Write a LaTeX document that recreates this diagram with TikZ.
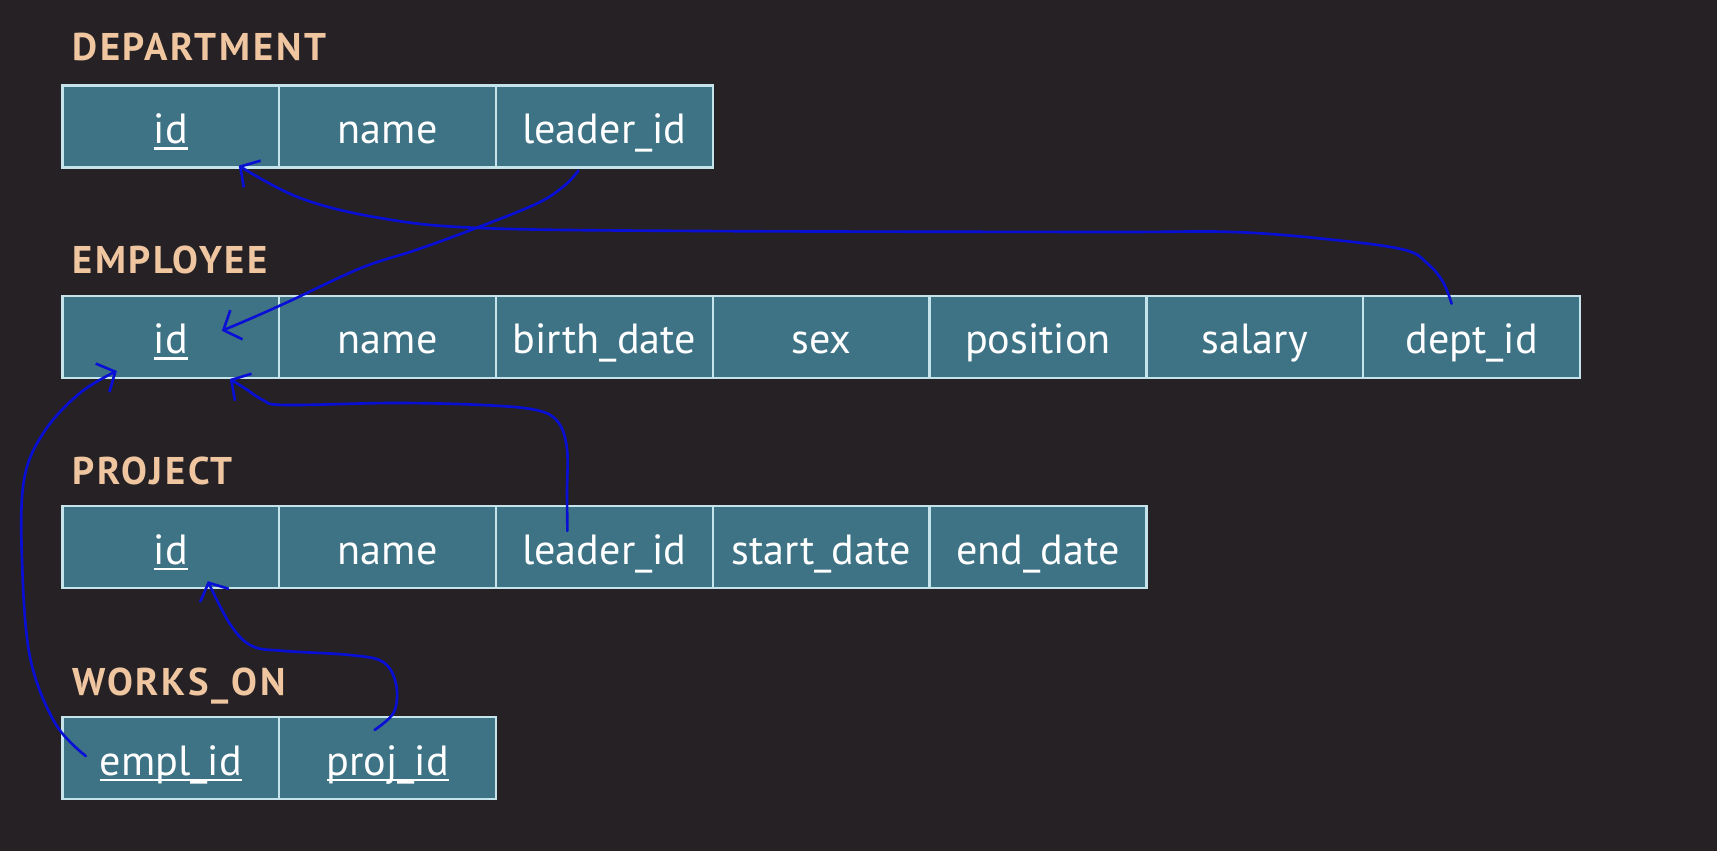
\documentclass[tikz,border=0pt]{standalone}
\usepackage{fontspec}
\setmainfont{PT Sans}
\usetikzlibrary{arrows.meta}
\definecolor{bgdark}{HTML}{252125}
\definecolor{cellfill}{HTML}{3E7386}
\definecolor{cellline}{HTML}{C5E3EA}
\definecolor{titlecol}{HTML}{EFC6A0}
\definecolor{penblue}{HTML}{0A0FD6}
\newcommand{\pkey}[1]{\leavevmode\setbox0=\hbox{#1}\rlap{\rule[-3.5pt]{\wd0}{1.5pt}}\box0}
\begin{document}
\begin{tikzpicture}[x=0.02cm,y=-0.02cm,>={Straight Barb[length=8pt,width=18pt]},
    cell/.style={draw=cellline,line width=1.3pt,fill=cellfill,text=white,minimum width=4.336cm,
        minimum height=1.64cm,inner sep=0pt,text height=0.88cm,text depth=0.2cm,font=\fontsize{24}{28}\selectfont},
    tname/.style={anchor=base west,inner sep=0pt,text=titlecol,font=\fontsize{22}{26}\selectfont\bfseries\addfontfeatures{LetterSpace=7}},
    fk/.style={->,penblue,line width=1.5pt,line cap=round,line join=round}]
    \fill[bgdark](0,0)rectangle(1717,851);
    \useasboundingbox(0,0)rectangle(1717,851);
    % tables
    \node[tname](t-dep)at(72,61){DEPARTMENT};
    \foreach \nm/\lbl [count=\i from 0] in {id/\pkey{id},name/name,leader/leader\_id}
        \node[cell](dep-\nm)at({170.8+216.8*\i},126.5){\lbl};
    \node[tname](t-emp)at(72,274){EMPLOYEE};
    \foreach \nm/\lbl [count=\i from 0] in {id/\pkey{id},name/name,birth/birth\_date,sex/sex,pos/position,salary/salary,dept/dept\_id}
        \node[cell](emp-\nm)at({170.8+216.8*\i},336.8){\lbl};
    \node[tname](t-prj)at(72,484){PROJECT};
    \foreach \nm/\lbl [count=\i from 0] in {id/\pkey{id},name/name,leader/leader\_id,start/start\_date,end/end\_date}
        \node[cell](prj-\nm)at({170.8+216.8*\i},547){\lbl};
    \node[tname](t-wo)at(72,695){WORKS\_ON};
    \foreach \nm/\lbl [count=\i from 0] in {empl/\pkey{empl\_id},proj/\pkey{proj\_id}}
        \node[cell](wo-\nm)at({170.8+216.8*\i},758){\lbl};
    % foreign keys
    \draw[fk]plot[smooth,tension=0.6]coordinates{([shift={(-20,9)}]emp-dept.north)(1443,282)(1428,264)(1405,250)(1335,240)(1233,232)(1100,232)(700,231)(480,228)(380,218)(300,198)([shift={(68,-3)}]dep-id.south)};
    \draw[fk]plot[smooth,tension=0.6]coordinates{([shift={(-26,2)}]dep-leader.south)(564,186)(536,204)(471,230)(416,250)(361,268)(290,301)(252,318)([shift={(51,-6)}]emp-id.center)};
    \draw[fk]plot[smooth,tension=0.6]coordinates{([shift={(-37,-16)}]prj-leader.center)(567,493)(567,449)(558,422)(536,410)(482,405)(394,403)(285,405)(263,400)(246,389)([shift={(59,0)}]emp-id.south)};
    \draw[fk]plot[smooth,tension=0.6]coordinates{([shift={(-85,-2)}]wo-empl.center)(55,723)(30,657)(22,560)(24,480)(44,432)(80,393)([shift={(-54,-8)}]emp-id.south)};
    \draw[fk]plot[smooth,tension=0.6]coordinates{([shift={(-13,14)}]wo-proj.north)(394,712)(396,684)(383,662)(350,655)(285,651)(252,646)(230,624)([shift={(37,-8)}]prj-id.south)};
\end{tikzpicture}
\end{document}
